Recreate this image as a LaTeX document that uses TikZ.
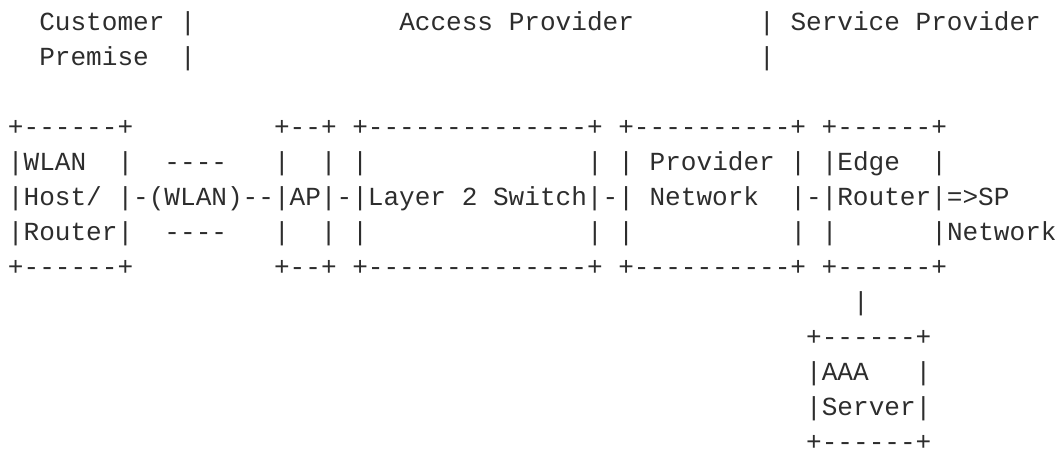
\documentclass[tikz,border=0pt]{standalone}
\usepackage{fontspec}
\setmonofont{Liberation Mono}
\definecolor{asciitext}{RGB}{45,45,45}
\tikzset{
  asciiline/.style={anchor=base west, inner sep=0pt, outer sep=0pt,
    font=\ttfamily\fontsize{26.08}{35}\selectfont, text=asciitext}
}
\newcommand\asciirow[4]{\node[asciiline] (#1) at ({8+#2*15.65},{424.3-#3*35}) {#4};}
\begin{document}
\begin{tikzpicture}[x=1pt,y=1pt]
\useasboundingbox (0,0) rectangle (1059,455);
% header
\asciirow{hcust}{2}{0}{Customer~|}
\asciirow{hacc}{25}{0}{Access~Provider}
\asciirow{hsp}{48}{0}{|~Service~Provider}
\asciirow{hprem}{2}{1}{Premise~~|}
\asciirow{hbar}{48}{1}{|}
% boxes
\asciirow{r3}{0}{3}{+------+~~~~~~~~~+--+~+--------------+~+----------+~+------+}
\asciirow{r4}{0}{4}{|WLAN~~|~~----~~~|~~|~|~~~~~~~~~~~~~~|~|~Provider~|~|Edge~~|}
\asciirow{r5}{0}{5}{|Host/~|-(WLAN)--|AP|-|Layer~2~Switch|-|~Network~~|-|Router|=>SP}
\asciirow{r6}{0}{6}{|Router|~~----~~~|~~|~|~~~~~~~~~~~~~~|~|~~~~~~~~~~|~|~~~~~~|Network}
\asciirow{r7}{0}{7}{+------+~~~~~~~~~+--+~+--------------+~+----------+~+------+}
% AAA server
\asciirow{r8}{54}{8}{|}
\asciirow{r9}{51}{9}{+------+}
\asciirow{r10}{51}{10}{|AAA~~~|}
\asciirow{r11}{51}{11}{|Server|}
\asciirow{r12}{51}{12}{+------+}
\end{tikzpicture}
\end{document}
